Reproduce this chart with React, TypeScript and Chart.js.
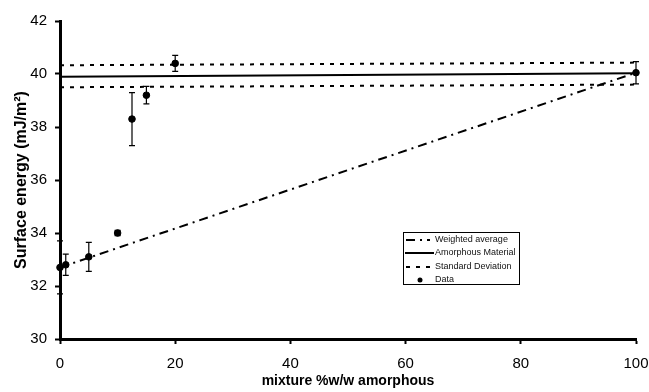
import React, { useEffect, useRef } from "react";
import { Chart, registerables } from "chart.js";

Chart.register(...registerables);

// ---- data ----
const mixturePct = [0, 1, 5, 10, 12.5, 15, 20, 100];
const surfaceEnergy = [32.7, 32.8, 33.1, 34.0, 38.3, 39.2, 40.4, 40.05];
const energyError = [1.0, 0.4, 0.55, 0.1, 1.0, 0.33, 0.3, 0.42];

const weightedX = [0, 100];
const weightedY = [32.7, 40.05];

const amorphousX = [0, 100];
const amorphousY = [39.9, 40.03];
const sdUpperY = [40.33, 40.43];
const sdLowerY = [39.5, 39.6];

const xTicks = [0, 20, 40, 60, 80, 100];
const yTicks = [30, 32, 34, 36, 38, 40, 42];

const legendLabels = ["Weighted average", "Amorphous Material", "Standard Deviation", "Data"];

const FONT = "'Liberation Sans', Arial, Helvetica, sans-serif";
const DASH_DOT = [9, 5, 2, 5];
const DOTTED = [4, 6];

const toPts = (xs: number[], ys: number[]) => xs.map((x, i) => ({ x, y: ys[i] }));

const errorBarPlugin = {
  id: "errorBars",
  afterDatasetsDraw(chart: any) {
    const meta = chart.getDatasetMeta(4);
    const ys = chart.scales.y;
    const ctx = chart.ctx;
    ctx.save();
    ctx.strokeStyle = "#000";
    ctx.lineWidth = 1.2;
    meta.data.forEach((pt: any, i: number) => {
      const v = surfaceEnergy[i];
      const e = energyError[i];
      const yTop = ys.getPixelForValue(v + e);
      const yBot = ys.getPixelForValue(v - e);
      const x = pt.x;
      ctx.beginPath();
      ctx.moveTo(x, yTop);
      ctx.lineTo(x, yBot);
      ctx.moveTo(x - 3, yTop);
      ctx.lineTo(x + 3, yTop);
      ctx.moveTo(x - 3, yBot);
      ctx.lineTo(x + 3, yBot);
      ctx.stroke();
    });
    ctx.restore();
  },
};

const legendPlugin = {
  id: "customLegend",
  afterDraw(chart: any) {
    const ctx = chart.ctx;
    const left = 403.5;
    const top = 232.5;
    const w = 116;
    const h = 52;
    const rows = [240, 253, 267, 280];
    ctx.save();
    ctx.strokeStyle = "#000";
    ctx.lineWidth = 1;
    ctx.strokeRect(left, top, w, h);
    ctx.font = `9px ${FONT}`;
    ctx.fillStyle = "#111";
    ctx.textBaseline = "middle";
    ctx.textAlign = "left";
    legendLabels.forEach((label, i) => {
      const y = rows[i];
      ctx.lineWidth = 2;
      ctx.beginPath();
      if (i === 0) {
        ctx.setLineDash(DASH_DOT);
        ctx.moveTo(406, y);
        ctx.lineTo(430, y);
        ctx.stroke();
      } else if (i === 1) {
        ctx.setLineDash([]);
        ctx.moveTo(405, y);
        ctx.lineTo(434, y);
        ctx.stroke();
      } else if (i === 2) {
        ctx.setLineDash(DOTTED);
        ctx.moveTo(406, y);
        ctx.lineTo(432, y);
        ctx.stroke();
      } else {
        ctx.setLineDash([]);
        ctx.beginPath();
        ctx.arc(420, y, 2.5, 0, Math.PI * 2);
        ctx.fillStyle = "#000";
        ctx.fill();
        ctx.fillStyle = "#111";
      }
      ctx.setLineDash([]);
      ctx.fillText(label, 435, y);
    });
    ctx.restore();
  },
};

export default function App() {
  const ref = useRef<HTMLCanvasElement | null>(null);

  useEffect(() => {
    if (!ref.current) return;
    const lineDs = (label: string, xs: number[], ys: number[], dash: number[]) => ({
      label,
      data: toPts(xs, ys),
      showLine: true,
      borderColor: "#000",
      backgroundColor: "#000",
      borderWidth: 2,
      borderDash: dash,
      pointRadius: 0,
      clip: false as any,
    });
    const chart = new Chart(ref.current, {
      type: "scatter",
      data: {
        datasets: [
          lineDs(legendLabels[0], weightedX, weightedY, DASH_DOT),
          lineDs(legendLabels[1], amorphousX, amorphousY, []),
          lineDs(legendLabels[2], amorphousX, sdUpperY, DOTTED),
          lineDs(legendLabels[2] + " low", amorphousX, sdLowerY, DOTTED),
          {
            label: legendLabels[3],
            data: toPts(mixturePct, surfaceEnergy),
            showLine: false,
            pointRadius: 3.3,
            pointBackgroundColor: "#000",
            pointBorderColor: "#000",
            clip: false as any,
          },
        ],
      },
      options: {
        animation: false,
        responsive: false,
        maintainAspectRatio: false,
        layout: { padding: { top: 21, right: 0, left: 0, bottom: 0 } },
        plugins: {
          legend: { display: false },
          tooltip: { enabled: false },
        },
        scales: {
          x: {
            type: "linear",
            min: 0,
            max: 100,
            afterBuildTicks: (s: any) => {
              s.ticks = xTicks.map((v) => ({ value: v }));
            },
            afterFit: (s: any) => {
              s.height = 53;
              s.paddingRight = 13;
            },
            ticks: {
              color: "#000",
              font: { family: FONT, size: 15 },
              padding: 11,
            },
            grid: {
              display: true,
              drawOnChartArea: false,
              drawTicks: true,
              tickLength: 5,
              tickWidth: 2,
              tickColor: "#000",
            },
            border: { display: true, color: "#000", width: 3 },
            title: {
              display: true,
              text: "mixture %w/w amorphous",
              color: "#000",
              font: { family: FONT, size: 14, weight: "bold" },
              padding: { top: 0, bottom: 2 },
            },
          },
          y: {
            type: "linear",
            min: 30,
            max: 42,
            afterBuildTicks: (s: any) => {
              s.ticks = yTicks.map((v) => ({ value: v }));
            },
            afterFit: (s: any) => {
              s.width = 60;
              s.paddingTop = 0;
            },
            ticks: {
              color: "#000",
              font: { family: FONT, size: 15 },
              padding: 8,
            },
            grid: {
              display: true,
              drawOnChartArea: false,
              drawTicks: true,
              tickLength: 5,
              tickWidth: 2,
              tickColor: "#000",
            },
            border: { display: true, color: "#000", width: 3 },
            title: {
              display: true,
              text: "Surface energy (mJ/m²)",
              color: "#000",
              font: { family: FONT, size: 16, weight: "bold" },
              padding: { top: 12, bottom: 0 },
            },
          },
        },
      },
      plugins: [errorBarPlugin, legendPlugin],
    });
    return () => chart.destroy();
  }, []);

  return (
    <div style={{ position: "fixed", left: 0, top: 0, width: 649, height: 392, background: "#fff" }}>
      <canvas ref={ref} width={649} height={392} style={{ width: 649, height: 392, display: "block" }} />
    </div>
  );
}
